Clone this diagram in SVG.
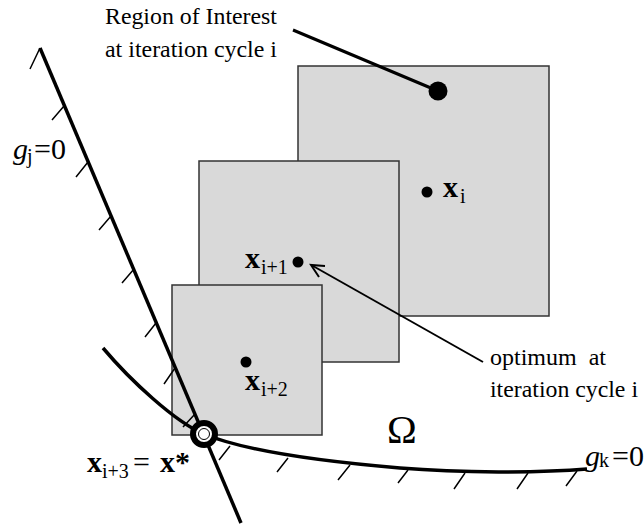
<svg xmlns="http://www.w3.org/2000/svg" width="644" height="525" viewBox="0 0 644 525">
<style>
.roi{fill:#d9d9d9;stroke:#333;stroke-width:1.5}
.serif{font-family:"Liberation Serif","Times New Roman",Tinos,"Nimbus Roman","DejaVu Serif",serif}
.t{font-size:23.5px;fill:#000}
.bx{font-size:30px;font-weight:bold;fill:#000}
.sub{font-size:20px;font-weight:normal;font-style:normal;fill:#000}
.g{font-size:30px;fill:#000}
.om{font-size:40px;fill:#000}
.bound{fill:none;stroke:#000;stroke-width:3.5}
.tick{fill:none;stroke:#000;stroke-width:1.5}
.dot{fill:#000}
</style>
<rect width="644" height="525" fill="#fff"/>
<g id="roi-i"><rect class="roi" x="298" y="66" width="251" height="250"/></g>
<g id="roi-i1"><rect class="roi" x="199" y="161" width="200" height="201"/></g>
<g id="roi-i2"><rect class="roi" x="172" y="285" width="150" height="150"/></g>

<g id="constraint-gj">
<line class="bound" x1="40" y1="48" x2="241" y2="523"/>
<path class="tick" d="M40,48 l-10,21 M64,106 l-12,14 M88,162 l-12,15 M111,216 l-12,14 M134,269 l-12,14 M156,323 l-11,14 M175,368 l-11,16 M195,414 l-12,13"/>
<text x="13" y="159" class="serif g"><tspan font-style="italic">g</tspan><tspan class="sub" x="27" dy="4">j</tspan><tspan x="34" dy="-4">=0</tspan></text>
</g>
<g id="constraint-gk">
<path class="bound" d="M103,348 C130,380 175,422 204,434 C250,453 340,463 400,468 C460,473 540,473 587,469"/>
<path class="tick" d="M230,446 l-11,14 M288,458 l-11,14 M350,465 l-12,15 M408,470 l-10,13 M465,473 l-11,16 M528,473 l-11,16 M577,471 l-11,15"/>
<text x="585" y="466" class="serif g"><tspan font-style="italic">g</tspan><tspan class="sub" x="599" dy="1">k</tspan><tspan x="612" dy="-1">=0</tspan></text>
</g>
<g id="omega"><text x="387" y="443" class="serif om">Ω</text></g>

<g id="connectors">
<line x1="293" y1="30" x2="438" y2="91" stroke="#000" stroke-width="3"/>
<line x1="483" y1="362" x2="313" y2="266" stroke="#000" stroke-width="2"/>
<polyline points="325,266 311,265 319,277" fill="none" stroke="#000" stroke-width="2"/>
</g>

<g id="region-label">
<text x="105" y="24" class="serif t" textLength="172" lengthAdjust="spacingAndGlyphs">Region of Interest</text>
<text x="105" y="57" class="serif t" textLength="172" lengthAdjust="spacingAndGlyphs">at iteration cycle i</text>
<circle class="dot" cx="438" cy="91" r="9.5"/>
</g>
<g id="optimum-label">
<text x="490" y="365" class="serif t" xml:space="preserve" textLength="116" lengthAdjust="spacingAndGlyphs">optimum  at</text>
<text x="490" y="397" class="serif t" textLength="148" lengthAdjust="spacingAndGlyphs">iteration cycle i</text>
</g>
<g id="x-i">
<circle class="dot" cx="427" cy="192" r="5.5"/>
<text x="443" y="197" class="serif bx">x<tspan class="sub" x="460" dy="6">i</tspan></text>
</g>
<g id="x-i1">
<circle class="dot" cx="298" cy="262" r="5.5"/>
<text x="245" y="268" class="serif bx">x<tspan class="sub" x="261" dy="6">i+1</tspan></text>
</g>
<g id="x-i2">
<circle class="dot" cx="246" cy="362" r="5.5"/>
<text x="245" y="390" class="serif bx">x<tspan class="sub" x="261" dy="6">i+2</tspan></text>
</g>
<g id="x-star">
<circle cx="204" cy="434" r="11" fill="#fff" stroke="#000" stroke-width="6"/>
<circle cx="204" cy="434" r="5.5" fill="#fff" stroke="#000" stroke-width="1"/>
<text x="87" y="472" class="serif bx">x<tspan class="sub" x="102" dy="6">i+3</tspan><tspan x="133" dy="-6" font-weight="normal">=</tspan><tspan x="160">x*</tspan></text>
</g>
</svg>
